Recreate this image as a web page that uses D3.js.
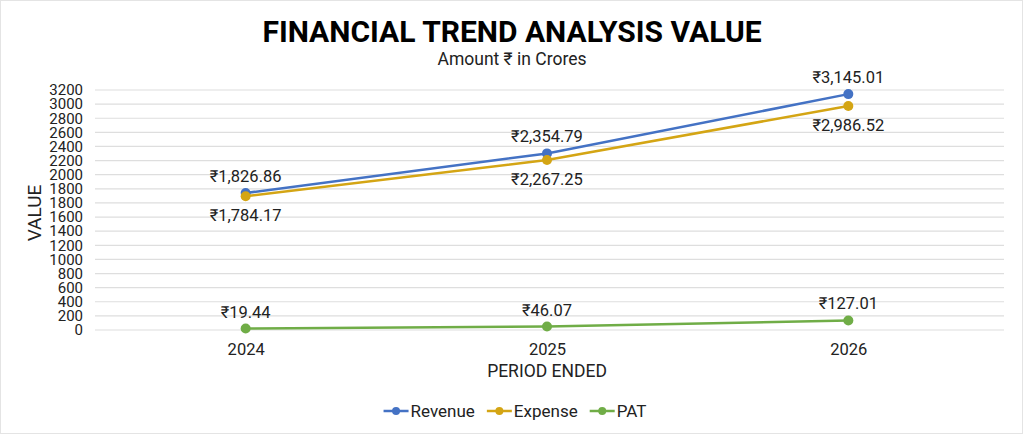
<!DOCTYPE html>
<html>
<head>
<meta charset="utf-8">
<script src="https://cdn.jsdelivr.net/npm/d3@7"></script>
<style>
  html, body { margin: 0; padding: 0; background: #fff; }
  svg { display: block; font-family: Roboto, "Noto Sans", sans-serif; }
</style>
</head>
<body>
<script>
// chart data
const years = ["2024", "2025", "2026"];
const revenue = [1826.86, 2354.79, 3145.01];
const expense = [1784.17, 2267.25, 2986.52];
const pat = [19.44, 46.07, 127.01];
// tick labels as they appear on the axis (bottom to top)
const yTickLabels = ["0", "200", "400", "600", "800", "1000", "1200", "1400", "1600",
  "1800", "1800", "2000", "2200", "2400", "2600", "2800", "3000", "3200"];

const w = 1024;
const h = 434;
const plotLeft = 95, plotRight = 1004, plotTop = 90, plotBottom = 330;

const series = [
  { name: "Revenue", values: revenue, color: "#4472c4", labelPos: "above" },
  { name: "Expense", values: expense, color: "#d4a514", labelPos: "below" },
  { name: "PAT", values: pat, color: "#70ad47", labelPos: "above" }
];

const fmt = (v) => "\u20b9" + d3.format(",.2f")(v);

let svg = d3.select("body").append("svg").attr("width", w).attr("height", h);

svg.append("rect")
  .attr("x", 0.5).attr("y", 0.5)
  .attr("width", w - 2).attr("height", h - 1)
  .attr("fill", "#fff")
  .attr("stroke", "#e4e4e4");

let xScale = d3.scalePoint()
  .domain(years)
  .range([plotLeft, plotRight - 5])
  .padding(0.5);

let yScale = d3.scaleLinear()
  .domain([0, 3200])
  .range([plotBottom, plotTop]);

// the label positions follow their index on the axis
let yLabelScale = d3.scaleLinear()
  .domain([0, yTickLabels.length - 1])
  .range([plotBottom, plotTop]);

// gridlines
svg.append("g")
  .selectAll("line")
  .data(yTickLabels)
  .enter()
  .append("line")
  .attr("x1", plotLeft)
  .attr("x2", plotRight)
  .attr("y1", (d, i) => yLabelScale(i))
  .attr("y2", (d, i) => yLabelScale(i))
  .attr("stroke", "#dedede")
  .attr("stroke-width", 1.2);

// y tick labels
const yAxis = d3.axisLeft(yLabelScale)
  .tickValues(d3.range(yTickLabels.length))
  .tickFormat((i) => yTickLabels[i])
  .tickSize(0)
  .tickPadding(12);

svg.append("g")
  .attr("class", "y axis")
  .attr("transform", "translate(" + (plotLeft) + ",0)")
  .call(yAxis)
  .call((g) => g.select(".domain").remove())
  .selectAll("text")
  .attr("font-size", "15px")
  .attr("font-family", "Roboto, 'Noto Sans', sans-serif")
  .attr("fill", "#222");

// x axis labels
const xAxis = d3.axisBottom(xScale).tickSize(0).tickPadding(13);
svg.append("g")
  .attr("class", "x axis")
  .attr("transform", "translate(0," + plotBottom + ")")
  .call(xAxis)
  .call((g) => g.select(".domain").remove())
  .selectAll("text")
  .attr("font-size", "16.5px")
  .attr("font-family", "Roboto, 'Noto Sans', sans-serif")
  .attr("fill", "#222");

// titles
svg.append("text")
  .attr("x", w / 2)
  .attr("y", 42)
  .attr("text-anchor", "middle")
  .attr("font-size", "30px")
  .attr("font-weight", "bold")
  .attr("fill", "#000")
  .text("FINANCIAL TREND ANALYSIS VALUE");

svg.append("text")
  .attr("x", w / 2)
  .attr("y", 65)
  .attr("text-anchor", "middle")
  .attr("font-size", "17.5px")
  .attr("fill", "#222")
  .text("Amount \u20b9 in Crores");

svg.append("text")
  .attr("x", 547)
  .attr("y", 376.5)
  .attr("text-anchor", "middle")
  .attr("font-size", "17.5px")
  .attr("fill", "#222")
  .text("PERIOD ENDED");

svg.append("text")
  .attr("transform", "translate(41, 213) rotate(-90)")
  .attr("text-anchor", "middle")
  .attr("font-size", "19px")
  .attr("fill", "#222")
  .text("VALUE");

// lines, markers and value labels
const line = d3.line()
  .x((d, i) => xScale(years[i]))
  .y((d) => yScale(d));

series.forEach((s) => {
  let g = svg.append("g").attr("class", "series");
  g.append("path")
    .datum(s.values)
    .attr("d", line)
    .attr("fill", "none")
    .attr("stroke", s.color)
    .attr("stroke-width", 2.5);
  g.selectAll("circle")
    .data(s.values)
    .enter()
    .append("circle")
    .attr("cx", (d, i) => xScale(years[i]))
    .attr("cy", (d) => yScale(d))
    .attr("r", 5)
    .attr("fill", s.color);
  g.selectAll("text")
    .data(s.values)
    .enter()
    .append("text")
    .attr("x", (d, i) => xScale(years[i]))
    .attr("y", (d) => s.labelPos === "above" ? yScale(d) - 11 : yScale(d) + 25)
    .attr("text-anchor", "middle")
    .attr("font-size", "16.5px")
    .attr("fill", "#222")
    .text((d) => fmt(d));
});

// legend
let legend = svg.append("g").attr("class", "legend");
let lx = 0;
series.forEach((s, i) => {
  let item = legend.append("g").attr("transform", "translate(" + lx + ",0)");
  item.append("line")
    .attr("x1", 0).attr("x2", 25)
    .attr("y1", 0).attr("y2", 0)
    .attr("stroke", s.color)
    .attr("stroke-width", 2.5);
  item.append("circle")
    .attr("cx", 12.5).attr("cy", 0).attr("r", 4)
    .attr("fill", s.color);
  let t = item.append("text")
    .attr("x", 27)
    .attr("y", 6)
    .attr("font-size", "17px")
    .attr("fill", "#222")
    .text(s.name);
  lx += 27 + t.node().getComputedTextLength() + 12;
});
legend.attr("transform", "translate(" + (w / 2 + 3 - (lx - 12) / 2) + ",411)");
</script>
</body>
</html>
